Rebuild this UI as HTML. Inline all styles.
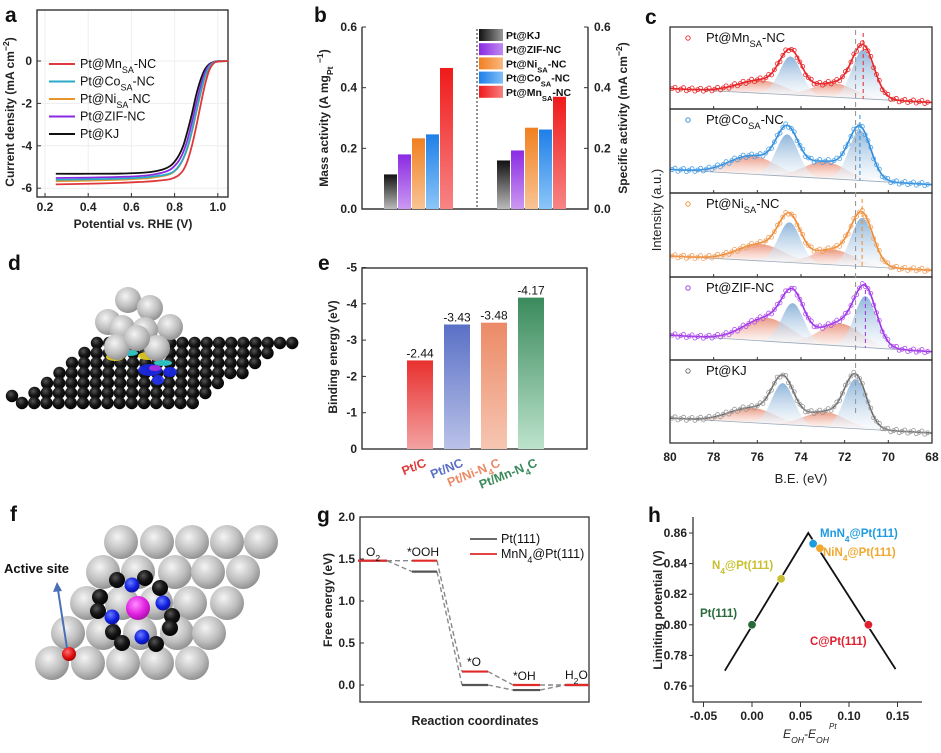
<!DOCTYPE html>
<html><head><meta charset="utf-8"><title>Figure</title>
<style>
html,body{margin:0;padding:0;background:#fff;}
svg{display:block;font-family:"Liberation Sans",Arial,sans-serif;}
.tk{font-size:12px;font-weight:bold;fill:#222;}
.ttl{font-size:12px;font-weight:bold;fill:#222;}
.pl{font-size:21px;font-weight:bold;fill:#111;}
</style></head>
<body>
<svg id="fig" width="941" height="753" viewBox="0 0 941 753" xmlns="http://www.w3.org/2000/svg">
<defs>
<linearGradient id="gKJ" x1="0" y1="0" x2="0" y2="1"><stop offset="0" stop-color="#111"/><stop offset="1" stop-color="#bbb"/></linearGradient>
<linearGradient id="gZIF" x1="0" y1="0" x2="0" y2="1"><stop offset="0" stop-color="#8a2be2"/><stop offset="1" stop-color="#cc99f2"/></linearGradient>
<linearGradient id="gNi" x1="0" y1="0" x2="0" y2="1"><stop offset="0" stop-color="#f08020"/><stop offset="1" stop-color="#f9c495"/></linearGradient>
<linearGradient id="gCo" x1="0" y1="0" x2="0" y2="1"><stop offset="0" stop-color="#1f7fe8"/><stop offset="1" stop-color="#8cc6f8"/></linearGradient>
<linearGradient id="gMn" x1="0" y1="0" x2="0" y2="1"><stop offset="0" stop-color="#f01a1a"/><stop offset="1" stop-color="#f78585"/></linearGradient>
<linearGradient id="hKJ" x1="0" y1="0" x2="1" y2="0"><stop offset="0" stop-color="#111"/><stop offset="1" stop-color="#999"/></linearGradient>
<linearGradient id="hZIF" x1="0" y1="0" x2="1" y2="0"><stop offset="0" stop-color="#8a2be2"/><stop offset="1" stop-color="#c08af0"/></linearGradient>
<linearGradient id="hNi" x1="0" y1="0" x2="1" y2="0"><stop offset="0" stop-color="#f08020"/><stop offset="1" stop-color="#f8b880"/></linearGradient>
<linearGradient id="hCo" x1="0" y1="0" x2="1" y2="0"><stop offset="0" stop-color="#1f7fe8"/><stop offset="1" stop-color="#80c0f8"/></linearGradient>
<linearGradient id="hMn" x1="0" y1="0" x2="1" y2="0"><stop offset="0" stop-color="#f01a1a"/><stop offset="1" stop-color="#f78080"/></linearGradient>
<linearGradient id="eR" x1="0" y1="0" x2="0" y2="1"><stop offset="0" stop-color="#e8302e"/><stop offset="1" stop-color="#f3a2a2"/></linearGradient>
<linearGradient id="eB" x1="0" y1="0" x2="0" y2="1"><stop offset="0" stop-color="#5a70c6"/><stop offset="1" stop-color="#bac2e8"/></linearGradient>
<linearGradient id="eO" x1="0" y1="0" x2="0" y2="1"><stop offset="0" stop-color="#ec8a66"/><stop offset="1" stop-color="#f6c6b2"/></linearGradient>
<linearGradient id="eG" x1="0" y1="0" x2="0" y2="1"><stop offset="0" stop-color="#3a8a5c"/><stop offset="1" stop-color="#bce3cc"/></linearGradient>
<linearGradient id="xB" x1="0" y1="0" x2="0" y2="1"><stop offset="0" stop-color="#7aa8d4"/><stop offset="1" stop-color="#ffffff" stop-opacity="0.6"/></linearGradient>
<linearGradient id="xR" x1="0" y1="0" x2="0" y2="1"><stop offset="0" stop-color="#e8886e"/><stop offset="1" stop-color="#ffffff" stop-opacity="0.6"/></linearGradient>
<radialGradient id="sG" cx="0.4" cy="0.35" r="0.7"><stop offset="0" stop-color="#f4f4f4"/><stop offset="0.6" stop-color="#bdbdbd"/><stop offset="1" stop-color="#8a8a8a"/></radialGradient>
<radialGradient id="sK" cx="0.4" cy="0.35" r="0.7"><stop offset="0" stop-color="#555"/><stop offset="0.5" stop-color="#151515"/><stop offset="1" stop-color="#000"/></radialGradient>
<radialGradient id="sN" cx="0.4" cy="0.35" r="0.7"><stop offset="0" stop-color="#6a7cff"/><stop offset="0.6" stop-color="#1020e0"/><stop offset="1" stop-color="#0a1090"/></radialGradient>
<radialGradient id="sM" cx="0.4" cy="0.35" r="0.7"><stop offset="0" stop-color="#ff8cff"/><stop offset="0.6" stop-color="#e020e0"/><stop offset="1" stop-color="#a010a0"/></radialGradient>
<radialGradient id="sR" cx="0.4" cy="0.35" r="0.7"><stop offset="0" stop-color="#ff7070"/><stop offset="0.6" stop-color="#e01010"/><stop offset="1" stop-color="#900"/></radialGradient>
</defs>
<text class="pl" x="5" y="22">a</text>
<text class="pl" x="314" y="22">b</text>
<text class="pl" x="645" y="24">c</text>
<text class="pl" x="8" y="270">d</text>
<text class="pl" x="318" y="270">e</text>
<text class="pl" x="10" y="521">f</text>
<text class="pl" x="317" y="522">g</text>
<text class="pl" x="648" y="522">h</text>
</svg>
<script>
// ---------- DATA ----------
const lsvPotential=[0.25,0.4,0.55,0.65,0.7,0.75,0.78,0.8,0.82,0.84,0.86,0.88,0.9,0.92,0.94,0.96,0.98,1.0,1.05];
const lsvKJ=[-5.32,-5.32,-5.31,-5.27,-5.22,-5.1,-4.95,-4.75,-4.45,-4.0,-3.3,-2.5,-1.6,-0.9,-0.4,-0.15,-0.05,-0.01,0];
const lsvZIF=[-5.52,-5.5,-5.47,-5.42,-5.36,-5.25,-5.12,-4.95,-4.7,-4.3,-3.7,-2.9,-2.0,-1.2,-0.55,-0.2,-0.06,-0.01,0];
const lsvCo=[-5.6,-5.58,-5.55,-5.5,-5.45,-5.38,-5.3,-5.18,-4.95,-4.6,-4.05,-3.3,-2.4,-1.5,-0.75,-0.28,-0.08,-0.02,0];
const lsvNi=[-5.67,-5.64,-5.6,-5.55,-5.5,-5.42,-5.33,-5.2,-4.98,-4.62,-4.1,-3.35,-2.45,-1.55,-0.78,-0.3,-0.09,-0.02,0];
const lsvMn=[-5.82,-5.79,-5.75,-5.7,-5.67,-5.62,-5.57,-5.5,-5.38,-5.15,-4.7,-4.0,-3.1,-2.1,-1.15,-0.45,-0.12,-0.03,0];
const aXTicks=[0.2,0.4,0.6,0.8,1.0];
const aYTicks=[0,-2,-4,-6];

const bSamples=['Pt@KJ','Pt@ZIF-NC','Pt@Ni','Pt@Co','Pt@Mn'];
const bMass=[0.114,0.18,0.233,0.246,0.465];
const bSpecific=[0.16,0.193,0.268,0.262,0.37];
const bTicks=[0,0.2,0.4,0.6];

const cSamples=['Mn','Co','Ni','ZIF','KJ'];
const cMetalPos=[71.15,71.3,71.2,71.05,71.5];
const cMetalH7=[0.6,0.6,0.58,0.62,0.6];
const cMetalH5=[0.47,0.5,0.48,0.48,0.5];
const cOxPos=[72.5,72.9,72.5,72.2,72.9];
const cOxH7=[0.17,0.2,0.18,0.27,0.18];
const cOxH5=[0.16,0.22,0.2,0.28,0.18];
const cBaseL=[0.25,0.28,0.25,0.3,0.3];
const cBaseR=[0.08,0.1,0.08,0.1,0.12];
const cXTicks=[80,78,76,74,72,70,68];

const eCats=['Pt/C','Pt/NC','Pt/Ni-N4C','Pt/Mn-N4C'];
const eVals=[-2.44,-3.43,-3.48,-4.17];
const eYTicks=[0,-1,-2,-3,-4,-5];

const gMn=[1.48,1.48,0.16,0.0,0.0];
const gPt=[1.48,1.35,0.0,-0.06,0.0];
const gStates=['O2','*OOH','*O','*OH','H2O'];
const gYTicks=[0,0.5,1.0,1.5,2.0];

const hX=[0,0.03,0.063,0.07,0.12];
const hY=[0.80,0.83,0.853,0.85,0.80];
const hNames=['Pt(111)','N4@Pt(111)','MnN4@Pt(111)','NiN4@Pt(111)','C@Pt(111)'];
const hLineX=[-0.028,0.058,0.148];
const hLineY=[0.770,0.860,0.771];
const hXTicks=[-0.05,0,0.05,0.10,0.15];
const hYTicks=[0.76,0.78,0.80,0.82,0.84,0.86];

// ---------- HELPERS ----------
const NS='http://www.w3.org/2000/svg';
const svg=document.getElementById('fig');
function mk(tag,attrs,parent,text){const e=document.createElementNS(NS,tag);for(const k in attrs)e.setAttribute(k,attrs[k]);if(text!==undefined)e.textContent=text;(parent||svg).appendChild(e);return e;}
function smooth(pts){let d='M'+pts[0][0].toFixed(2)+','+pts[0][1].toFixed(2);for(let i=0;i<pts.length-1;i++){const p0=pts[Math.max(0,i-1)],p1=pts[i],p2=pts[i+1],p3=pts[Math.min(pts.length-1,i+2)];const c1=[p1[0]+(p2[0]-p0[0])/6,p1[1]+(p2[1]-p0[1])/6],c2=[p2[0]-(p3[0]-p1[0])/6,p2[1]-(p3[1]-p1[1])/6];d+='C'+c1[0].toFixed(2)+','+c1[1].toFixed(2)+' '+c2[0].toFixed(2)+','+c2[1].toFixed(2)+' '+p2[0].toFixed(2)+','+p2[1].toFixed(2);}return d;}
function subText(parent,x,y,parts,attrs){const t=mk('text',Object.assign({x:x,y:y},attrs||{}),parent);parts.forEach(p=>{mk('tspan',p[1]?{'baseline-shift':p[1],'font-size':'0.72em'}:{},t,p[0]);});return t;}

// ---------- PANEL A ----------
const gA=mk('g',{});


const ax=v=>45+(v-0.2)*216, ay=j=>61-j*21.2;
const aBot=197,aRight=228;
aXTicks.forEach(v=>{const l=mk('line',{x1:ax(v),x2:ax(v),y1:10,y2:aBot,stroke:'#eee','stroke-width':1},gA);});
aYTicks.forEach(v=>{const l=mk('line',{x1:37,x2:aRight,y1:ay(v),y2:ay(v),stroke:'#eee','stroke-width':1},gA);});
const aFrame=mk('rect',{x:37,y:10,width:aRight-37,height:aBot-10,fill:'none',stroke:'#333','stroke-width':1.4},gA);


aXTicks.forEach(v=>{mk('line',{x1:ax(v),x2:ax(v),y1:aBot,y2:aBot-4,stroke:'#333'},gA);const t=mk('text',{x:ax(v),y:aBot+14,'text-anchor':'middle',class:'tk'},gA,v.toFixed(1));});
aYTicks.forEach(v=>{mk('line',{x1:37,x2:41,y1:ay(v),y2:ay(v),stroke:'#333'},gA);const t=mk('text',{x:32,y:ay(v)+4,'text-anchor':'end',class:'tk'},gA,String(v));});
const aXT=mk('text',{x:133,y:aBot+31,'text-anchor':'middle',class:'ttl'},gA,'Potential vs. RHE (V)');


const aYT=subText(gA,0,0,[['Current density (mA cm'],['−2','super'],[')']],{class:'ttl',transform:'translate(14,112) rotate(-90)','text-anchor':'middle'});


const aSeries=[[lsvKJ,'#111'],[lsvZIF,'#8a2be2'],[lsvNi,'#e8962a'],[lsvCo,'#2aaac8'],[lsvMn,'#e0383a']];
aSeries.forEach(s=>{const p=mk('path',{d:smooth(lsvPotential.map((v,i)=>[ax(v),ay(s[0][i])])),fill:'none',stroke:s[1],'stroke-width':1.8},gA);});
const aLeg=[['Pt@Mn','SA','-NC','#e0383a'],['Pt@Co','SA','-NC','#2aaac8'],['Pt@Ni','SA','-NC','#e8962a'],['Pt@ZIF-NC','','','#8a2be2'],['Pt@KJ','','','#111']];
aLeg.forEach((l,i)=>{const y=64+i*17.5;const ln=mk('line',{x1:49,x2:75,y1:y,y2:y,stroke:l[3],'stroke-width':2},gA);const parts=[[l[0]]];if(l[1]){parts.push([l[1],'sub']);parts.push([l[2]]);}const t=subText(gA,80,y+4,parts,{'font-size':'12.5px',fill:'#111'});});

// ---------- PANEL B ----------
const gB=mk('g',{});


const by=v=>209-v*(182/0.6);
const bFrame=mk('path',{d:'M362,27 V209 H588 V27',fill:'none',stroke:'#333','stroke-width':1.4},gB);


const bDiv=mk('line',{x1:477,x2:477,y1:29,y2:209,stroke:'#222','stroke-dasharray':'2,2'},gB);


bTicks.forEach(v=>{mk('line',{x1:362,x2:366,y1:by(v),y2:by(v),stroke:'#333'},gB);mk('line',{x1:584,x2:588,y1:by(v),y2:by(v),stroke:'#333'},gB);const t=mk('text',{x:357,y:by(v)+4,'text-anchor':'end',class:'tk'},gB,v.toFixed(1));const t2=mk('text',{x:594,y:by(v)+4,class:'tk'},gB,v.toFixed(1));});
const bFills=['gKJ','gZIF','gNi','gCo','gMn'];
bMass.forEach((v,i)=>{const r=mk('rect',{x:384+i*14,y:by(v),width:13,height:209-by(v),fill:'url(#'+bFills[i]+')'},gB);});
bSpecific.forEach((v,i)=>{const r=mk('rect',{x:497+i*14,y:by(v),width:13,height:209-by(v),fill:'url(#'+bFills[i]+')'},gB);});
const bLeg=[['Pt@KJ','',''],['Pt@ZIF-NC','',''],['Pt@Ni','SA','-NC'],['Pt@Co','SA','-NC'],['Pt@Mn','SA','-NC']];
const bLegF=['hKJ','hZIF','hNi','hCo','hMn'];
bLeg.forEach((l,i)=>{const y=29+i*14.2;const r=mk('rect',{x:479,y:y,width:24,height:12,fill:'url(#'+bLegF[i]+')'},gB);const parts=[[l[0]]];if(l[1]){parts.push([l[1],'sub']);parts.push([l[2]]);}const t=subText(gB,506,y+10,parts,{'font-size':'10.5px','font-weight':'bold',fill:'#111'});});
const bYL=subText(gB,0,0,[['Mass activity (A mg'],['Pt','sub'],[' '],['−1','super'],[')']],{class:'ttl',transform:'translate(328,118) rotate(-90)','text-anchor':'middle'});


const bYR=subText(gB,0,0,[['Specific activity (mA cm'],['−2','super'],[')']],{class:'ttl',transform:'translate(627,118) rotate(-90)','text-anchor':'middle'});



// ---------- PANEL C ----------
const gC=mk('g',{});


const cx=be=>670+(80-be)*21.83;
const cTops=[27,109,193,277,360];
const cCols=['#e8262a','#2e8ad8','#ee8a2a','#9b30e0','#6a6a6a'];
const cPts=['#e8262a','#4aa0e8','#f0a060','#b050f0','#999'];
const cTitles=[['Pt@Mn','SA','-NC'],['Pt@Co','SA','-NC'],['Pt@Ni','SA','-NC'],['Pt@ZIF-NC','',''],['Pt@KJ','','']];
const gauss=(x,m,s)=>Math.exp(-0.5*((x-m)/s)**2);
cSamples.forEach((s,k)=>{
  const top=cTops[k],bot=(k<4?cTops[k+1]:443),H=bot-top;
  const py=r=>bot-r*H;
  const base=be=>cBaseL[k]+(cBaseR[k]-cBaseL[k])*(80-be)/12;
  const m7=cMetalPos[k],m5=m7+3.33,o7=cOxPos[k],o5=o7+3.33;
  const comps=[[o5,cOxH5[k],1.05,'xR'],[o7,cOxH7[k],0.95,'xR'],[m5,cMetalH5[k],0.5,'xB'],[m7,cMetalH7[k],0.5,'xB']];
  comps.forEach(c=>{const pts=[];for(let be=c[0]+3;be>=c[0]-3;be-=0.1){if(be>80||be<68)continue;pts.push([cx(be),py(base(be)+c[1]*gauss(be,c[0],c[2]))]);}const lo=Math.min(80,c[0]+3),hi=Math.max(68,c[0]-3);let d='M'+cx(lo)+','+py(base(lo));pts.forEach(p=>d+='L'+p[0].toFixed(1)+','+p[1].toFixed(1));d+='L'+cx(hi)+','+py(base(hi))+'Z';const a=mk('path',{d:d,fill:'url(#'+c[3]+')',opacity:0.85},gC);});
  const bl=mk('line',{x1:cx(80),x2:cx(68),y1:py(base(80)),y2:py(base(68)),stroke:'#9ab',"stroke-width":0.8},gC);
  
  
  const tot=be=>base(be)+comps.reduce((a,c)=>a+c[1]*gauss(be,c[0],c[2]),0);
  const pts=[];for(let be=80;be>=68;be-=0.08)pts.push([cx(be),py(tot(be))]);
  let d='M'+pts.map(p=>p[0].toFixed(1)+','+p[1].toFixed(1)).join('L');
  const cv=mk('path',{d:d,fill:'none',stroke:cCols[k],'stroke-width':1.6},gC);
  
  
  for(let be=79.9;be>=68.2;be-=0.13){const o=((Math.round(be*100))%3-1)*1.5;const c=mk('circle',{cx:cx(be),cy:py(tot(be))+o,r:2,fill:'none',stroke:cPts[k],'stroke-width':0.8},gC);}
  if(k<4){const dl=mk('line',{x1:cx(m7),x2:cx(m7),y1:top+6,y2:py(base(m7)),stroke:cCols[k],'stroke-dasharray':'4,3','stroke-width':1},gC);}
  const fr=mk('rect',{x:670,y:top,width:262,height:H,fill:'none',stroke:'#333','stroke-width':1.3},gC);
  
  
  cXTicks.forEach(v=>{mk('line',{x1:cx(v),x2:cx(v),y1:bot,y2:bot-3,stroke:'#333'},gC);});
  const mkr=mk('circle',{cx:688,cy:top+11,r:2.2,fill:'none',stroke:cCols[k],'stroke-width':0.9},gC);
  
  
  const parts=[[cTitles[k][0]]];if(cTitles[k][1]){parts.push([cTitles[k][1],'sub']);parts.push([cTitles[k][2]]);}
  const tt=subText(gC,706,top+15,parts,{'font-size':'13px',fill:'#111'});
  
  
});
const cRef=mk('line',{x1:cx(71.5),x2:cx(71.5),y1:30,y2:415,stroke:'#999','stroke-dasharray':'5,4','stroke-width':1.1},gC);


cXTicks.forEach(v=>{const t=mk('text',{x:cx(v),y:461,'text-anchor':'middle',class:'tk'},gC,String(v));});
const cXT=mk('text',{x:801,y:483,'text-anchor':'middle','font-size':'13px',fill:'#222'},gC,'B.E. (eV)');


const cYT=mk('text',{transform:'translate(661,210) rotate(-90)','text-anchor':'middle','font-size':'13px',fill:'#222'},gC,'Intensity (a.u.)');



// ---------- PANEL D (structure) ----------
const gD=mk('g',{});


for(let r=6;r>=0;r--){const y=403-r*10,xs=22+r*12.5,xe=195+r*16.3;for(let x=xs;x<=xe+1;x+=12.2){const c=mk('circle',{cx:x,cy:y,r:6.2,fill:'url(#sK)'},gD);}}
const dLeft=mk('circle',{cx:12,cy:396,r:6.2,fill:'url(#sK)'},gD);


[[115,357,'#e8d020',9,4],[148,356,'#e8d020',10,4],[130,353,'#30d0d0',8,3],[163,363,'#30d0d0',9,3],[150,370,'#1a28e8',12,6],[170,372,'#1a28e8',7,5],[158,380,'#2030f0',6,5],[155,368,'#b030e0',6,3]].forEach(b=>{const e=mk('ellipse',{cx:b[0],cy:b[1],rx:b[3],ry:b[4],fill:b[2],opacity:0.9},gD);});
[[128,300],[150,308],[108,322],[170,327],[122,328],[145,330],[117,347],[157,348],[137,338]].forEach(p=>{const c=mk('circle',{cx:p[0],cy:p[1],r:13,fill:'url(#sG)'},gD);});

// ---------- PANEL E ----------
const gE=mk('g',{});


const ey=v=>449+v*36.3;
const eFr=mk('rect',{x:362,y:268,width:225,height:181,fill:'none',stroke:'#333','stroke-width':1.4},gE);


eYTicks.forEach(v=>{mk('line',{x1:362,x2:366,y1:ey(v),y2:ey(v),stroke:'#333'},gE);const t=mk('text',{x:357,y:ey(v)+4,'text-anchor':'end',class:'tk'},gE,v===0?'0':String(v));});
const eFill=['eR','eB','eO','eG'],eTxt=['#e03a3a','#5a70c6','#ec8a66','#3a8a5c'];
eVals.forEach((v,i)=>{const x=407+i*37;const r=mk('rect',{x:x,y:ey(v),width:26,height:449-ey(v),fill:'url(#'+eFill[i]+')'},gE);const t=mk('text',{x:x+13,y:ey(v)-3,'text-anchor':'middle','font-size':'12px',fill:'#111'},gE,v.toFixed(2));});
eCats.forEach((c,i)=>{const x=407+i*37+20;const parts=c.indexOf('N4')>=0?[[c.split('N4')[0]+'N'],['4','sub'],[c.split('N4')[1]]]:[[c]];const t=subText(gE,0,0,parts,{transform:'translate('+x+',466) rotate(-22)','text-anchor':'end','font-size':'12.5px','font-weight':'bold',fill:eTxt[i]});});
const eYT=mk('text',{transform:'translate(337,357) rotate(-90)','text-anchor':'middle',class:'ttl'},gE,'Binding energy (eV)');



// ---------- PANEL F (structure) ----------
const gF=mk('g',{});


[[121,542],[157,542],[192,542],[227,542],[261,542],[103,572],[138,572],[175,572],[208,572],[243,572],[87,603],[122,603],[156,603],[190,603],[227,603],[68,633],[103,633],[140,633],[177,633],[209,633],[52,663],[88,663],[123,663],[157,663],[192,663]].forEach(p=>{const c=mk('circle',{cx:p[0],cy:p[1],r:17,fill:'url(#sG)'},gF);});
[[117,580],[145,578],[160,588],[100,597],[98,611],[172,616],[170,628],[113,632],[122,643],[156,644]].forEach(p=>{const c=mk('circle',{cx:p[0],cy:p[1],r:8,fill:'url(#sK)'},gF);});
[[132,585],[163,603],[112,617],[142,637]].forEach(p=>{const c=mk('circle',{cx:p[0],cy:p[1],r:7.5,fill:'url(#sN)'},gF);});
const fMn=mk('circle',{cx:138,cy:608,r:12,fill:'url(#sM)'},gF);


const fAct=mk('circle',{cx:69,cy:654,r:7,fill:'url(#sR)'},gF);


const fArr=mk('line',{x1:67,y1:648,x2:58,y2:590,stroke:'#4a6fb8','stroke-width':2},gF);


const fHead=mk('path',{d:'M57,582 L53,592 L62,591 Z',fill:'#4a6fb8'},gF);


const fTxt=mk('text',{x:4,y:573,'font-size':'13px','font-weight':'bold',fill:'#111'},gF,'Active site');



// ---------- PANEL G ----------
const gG=mk('g',{});


const gy=v=>685-v*84;
const gXs=[358,412,462,513,565],gW=[29,25,26,27,24];
const gFr=mk('rect',{x:360,y:517,width:229,height:185,fill:'none',stroke:'#333','stroke-width':1.3},gG);


gYTicks.forEach(v=>{mk('line',{x1:360,x2:364,y1:gy(v),y2:gy(v),stroke:'#333'},gG);const t=mk('text',{x:355,y:gy(v)+4,'text-anchor':'end',class:'tk'},gG,v.toFixed(1));});
[[gPt,'#555'],[gMn,'#e02a2a']].forEach(s=>{for(let i=0;i<4;i++){const c=mk('line',{x1:gXs[i]+gW[i],y1:gy(s[0][i]),x2:gXs[i+1],y2:gy(s[0][i+1]),stroke:'#888','stroke-width':1.4,'stroke-dasharray':'5,3'},gG);}});
gPt.forEach((v,i)=>{const l=mk('line',{x1:gXs[i],x2:gXs[i]+gW[i],y1:gy(v),y2:gy(v),stroke:'#555','stroke-width':2.2},gG);});
gMn.forEach((v,i)=>{const l=mk('line',{x1:gXs[i],x2:gXs[i]+gW[i],y1:gy(v),y2:gy(v),stroke:'#e02a2a','stroke-width':2.2},gG);});
const gLab=[[[['O'],['2','sub']],366,556],[[['*OOH']],407,556],[[['*O']],467,666],[[['*OH']],513,680],[[['H'],['2','sub'],['O']],565,679]];
gLab.forEach(l=>{const t=subText(gG,l[1],l[2],l[0],{'font-size':'12px',fill:'#111'});});
const gl1=mk('line',{x1:470,x2:497,y1:539,y2:539,stroke:'#555','stroke-width':1.8},gG);


const gl2=mk('line',{x1:470,x2:497,y1:554,y2:554,stroke:'#e02a2a','stroke-width':1.8},gG);


const gt1=mk('text',{x:501,y:543,'font-size':'12.5px',fill:'#111'},gG,'Pt(111)');


const gt2=subText(gG,501,558,[['MnN'],['4','sub'],['@Pt(111)']],{'font-size':'12.5px',fill:'#111'});


const gXT=mk('text',{x:475,y:725,'text-anchor':'middle','font-size':'12.5px','font-weight':'bold',fill:'#222'},gG,'Reaction coordinates');


const gYT=mk('text',{transform:'translate(332,600) rotate(-90)','text-anchor':'middle',class:'ttl'},gG,'Free energy (eV)');



// ---------- PANEL H ----------
const gH=mk('g',{});


const hx=v=>752+v*970, hy=v=>533-(v-0.86)*1530;
const hAx=mk('path',{d:'M693,517 V702 H922',fill:'none',stroke:'#333','stroke-width':1.3},gH);


hXTicks.forEach(v=>{mk('line',{x1:hx(v),x2:hx(v),y1:702,y2:707,stroke:'#333'},gH);const t=mk('text',{x:hx(v),y:720,'text-anchor':'middle',class:'tk'},gH,v.toFixed(2));});
hYTicks.forEach(v=>{mk('line',{x1:689,x2:693,y1:hy(v),y2:hy(v),stroke:'#333'},gH);const t=mk('text',{x:687,y:hy(v)+4,'text-anchor':'end',class:'tk'},gH,v.toFixed(2));});
const hLine=mk('polyline',{points:hLineX.map((v,i)=>hx(v)+','+hy(hLineY[i])).join(' '),fill:'none',stroke:'#111','stroke-width':1.8},gH);


const hCols=['#2a6a3a','#c8c030','#1e9be0','#f0a830','#e02030'];
hX.forEach((v,i)=>{const c=mk('circle',{cx:hx(v),cy:hy(hY[i]),r:4.2,fill:hCols[i],stroke:'#fff','stroke-width':0.6},gH);});
const hLab=[[hNames[0],700,617,[['Pt(111)']]],[hNames[1],712,569,[['N'],['4','sub'],['@Pt(111)']]],[hNames[2],820,537,[['MnN'],['4','sub'],['@Pt(111)']]],[hNames[3],823,556,[['NiN'],['4','sub'],['@Pt(111)']]],[hNames[4],810,645,[['C@Pt(111)']]]];
hLab.forEach((l,i)=>{const t=subText(gH,l[1],l[2],l[3],{'font-size':'11.5px','font-weight':'bold',fill:hCols[i]});});
const hXT=subText(gH,806,738,[['E'],['OH','sub'],['-E'],['OH','sub']],{'font-size':'12px','font-style':'italic','text-anchor':'middle',fill:'#222'});


const hXTs=mk('text',{x:829,y:729,'font-size':'8px','font-style':'italic',fill:'#222'},gH,'Pt');


const hYT=mk('text',{transform:'translate(662,610) rotate(-90)','text-anchor':'middle',class:'ttl'},gH,'Limiting potential (V)');


</script>
</body></html>
